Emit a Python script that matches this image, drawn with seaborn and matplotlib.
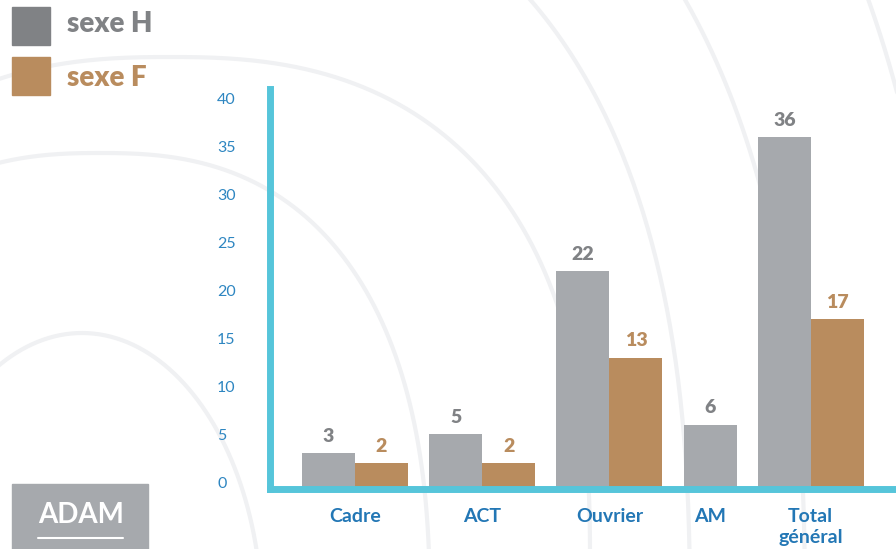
# %%
# === Load modules ===
import numpy as np
import pandas as pd
import seaborn as sns
import matplotlib.pyplot as plt
from matplotlib.patches import Rectangle

# %%
# === Data ===
categories = ['Cadre', 'ACT', 'Ouvrier', 'AM', 'Total\ngénéral']
series     = ['sexe H', 'sexe F']
sexe_h     = [3, 5, 22, 6, 36]
sexe_f     = [2, 2, 13, None, 17]   # pas de femme AM
y_ticks    = [0, 5, 10, 15, 20, 25, 30, 35, 40]

# === Style ===
GRAY_BAR   = '#a6a9ad'
GRAY_TXT   = '#808285'
BROWN      = '#b98c5e'
CYAN       = '#56c5da'
BLUE_TICK  = '#2e86c1'
BLUE_CAT   = '#2377b5'
ARC_COL    = '#f0f1f3'
W, H       = 896, 549
GAP        = 0.4   # space between groups, in bar widths

# build long table: one row per drawn bar, groups packed side by side
rows, centers = [], []
pos = 0.0
for cat, h, f in zip(categories, sexe_h, sexe_f):
    xs = []
    for name, val in zip(series, (h, f)):
        if val is None:
            continue
        rows.append({'pos': round(pos + 0.5, 3), 'value': val, 'sexe': name})
        xs.append(pos + 0.5)
        pos += 1
    centers.append(np.mean(xs))
    pos += GAP
df = pd.DataFrame(rows)

# %%
# === Figure ===
sns.set_theme(style='white')
plt.rcParams['font.family'] = ['Lato', 'DejaVu Sans']

fig = plt.figure(figsize=(W / 100, H / 100), dpi=100)

# background layer in pixel coords (arcs, legend, logo box)
bg = fig.add_axes([0, 0, 1, 1], zorder=0)
bg.set_xlim(0, W)
bg.set_ylim(H, 0)
bg.axis('off')

def arc(cx, cy, a, b, n=2.5):
    t = np.linspace(0, np.pi, 400)
    c, s = np.cos(t), np.sin(t)
    x = cx + a * np.sign(c) * np.abs(c) ** (2 / n)
    y = cy - b * np.abs(s) ** (2 / n)
    bg.plot(x, y, color=ARC_COL, lw=3, zorder=1)

arc(82, 620, 180, 287, 2)
arc(100, 620, 330, 467)
arc(170, 560, 420, 503)
arc(160, 620, 530, 765)
arc(160, 620, 645, 893)
arc(160, 620, 790, 1100)

# legend
bg.add_patch(Rectangle((12, 7), 38, 38, color=GRAY_TXT, zorder=3))
bg.add_patch(Rectangle((12, 57), 38, 38, color=BROWN, zorder=3))
bg.text(67, 32, 'sexe H', color=GRAY_TXT, fontsize=20, fontweight='heavy', va='baseline', zorder=4)
bg.text(67, 86, 'sexe F', color=BROWN, fontsize=20, fontweight='heavy', va='baseline', zorder=4)

# logo box bottom-left
bg.add_patch(Rectangle((12, 484), 136, 80, color=GRAY_BAR, zorder=3))
bg.text(38, 523, 'ADAM', color='white', fontsize=20, fontweight='bold', va='baseline', zorder=4)
bg.plot([38, 123], [538, 538], color='white', lw=1.5, zorder=4)

# %%
# === Bars ===
ax = fig.add_axes([269.5 / W, 1 - 489 / H, (W - 269.5) / W, (489 - 89) / H], zorder=1)
ax.patch.set_alpha(0)

sns.barplot(
    data=df,
    x='pos',
    y='value',
    hue='sexe',
    hue_order=series,
    palette={'sexe H': GRAY_BAR, 'sexe F': BROWN},
    native_scale=True,
    dodge=False,
    width=1,
    saturation=1,
    errorbar=None,
    legend=False,
    linewidth=0,
    ax=ax,
)

ax.set_xlim(-32.5 / 53, (W - 302) / 53)
ax.set_ylim(-0.71, 41.0)

for cont, col in zip(ax.containers, [GRAY_TXT, BROWN]):
    ax.bar_label(cont, padding=6, color=col, fontsize=14, fontweight='heavy')

# bars run down under the thick baseline
y0 = ax.get_ylim()[0]
for bar in ax.patches:
    bar.set_height(bar.get_height() - y0)
    bar.set_y(y0)

# axes
ax.spines[['top', 'right']].set_visible(False)
for side in ['left', 'bottom']:
    ax.spines[side].set_color(CYAN)
    ax.spines[side].set_linewidth(5)
    ax.spines[side].set_capstyle('projecting')

ax.set_xticks(centers, categories)
ax.set_yticks(y_ticks, [str(t) for t in y_ticks])
ax.tick_params(axis='x', length=0, pad=14, labelsize=14, labelcolor=BLUE_CAT)
ax.tick_params(axis='y', length=0, pad=37.8, labelsize=11.5, labelcolor=BLUE_TICK)
for lbl in ax.get_xticklabels():
    lbl.set_fontweight('bold')
    lbl.set_linespacing(1.25)
for lbl in ax.get_yticklabels():
    lbl.set_ha('left')
    lbl.set_fontweight('normal')
ax.set_xlabel('')
ax.set_ylabel('')
ax.grid(False)

fig.savefig('out.png', dpi=100)
